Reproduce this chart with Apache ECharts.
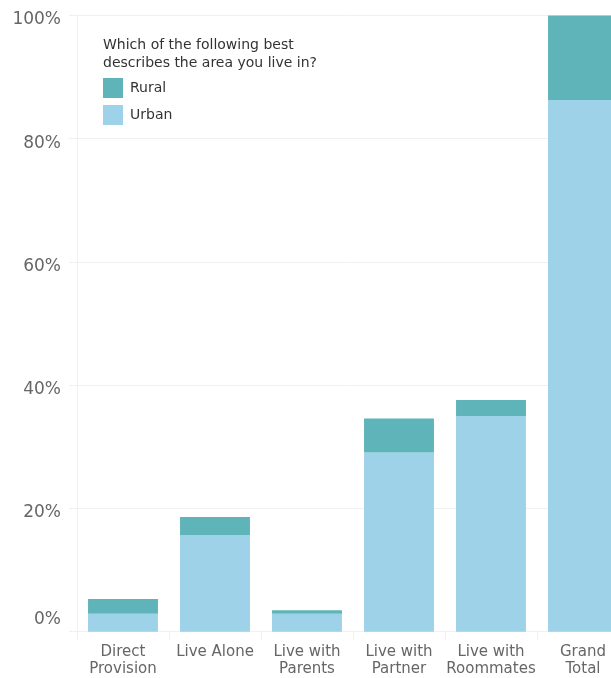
<!DOCTYPE html>
<html>
<head>
<meta charset="utf-8">
<script src="https://cdn.jsdelivr.net/npm/echarts@6/dist/echarts.min.js"></script>
<style>
  html, body { margin: 0; padding: 0; background: #fff; }
  #chart { width: 611px; height: 678px; }
</style>
</head>
<body>
<div id="chart"></div>
<script>
// living situation categories
var categories = ['Direct\nProvision', 'Live Alone', 'Live with\nParents', 'Live with\nPartner', 'Live with\nRoommates', 'Grand\nTotal'];
// share of respondents, percent
var urbanValues = [2.9, 15.7, 2.9, 29.1, 35.0, 86.3];
var ruralValues = [2.4, 2.9, 0.6, 5.5, 2.6, 13.7];
var yTicks = [0, 20, 40, 60, 80, 100];

var font = '"DejaVu Sans", "Noto Sans", sans-serif';
var gridColor = '#f0f0f0';

var myChart = echarts.init(document.getElementById('chart'));

var option = {
    backgroundColor: '#fff',
    animation: false,
    textStyle: { fontFamily: font },
    title: {
        text: 'Which of the following best\ndescribes the area you live in?',
        left: 103,
        top: 36,
        padding: 0,
        textStyle: {
            fontFamily: font,
            fontSize: 14,
            fontWeight: 'normal',
            color: '#333',
            lineHeight: 18
        }
    },
    legend: {
        orient: 'vertical',
        left: 103,
        top: 78,
        padding: 0,
        itemWidth: 20,
        itemHeight: 20,
        itemGap: 7,
        icon: 'rect',
        data: ['Rural', 'Urban'],
        textStyle: {
            fontFamily: font,
            fontSize: 14,
            color: '#333',
            padding: [0, 0, 0, 2]
        }
    },
    grid: {
        left: 77,
        width: 552,
        top: 15.5,
        height: 616.2,
        containLabel: false,
        outerBoundsMode: 'none'
    },
    xAxis: {
        type: 'category',
        data: categories,
        axisLine: { show: true, lineStyle: { color: gridColor } },
        axisTick: { show: true, length: 8, alignWithLabel: false, lineStyle: { color: gridColor } },
        axisLabel: {
            margin: 12,
            interval: 0,
            fontFamily: font,
            fontSize: 15,
            lineHeight: 17,
            color: '#666'
        }
    },
    yAxis: {
        type: 'value',
        min: yTicks[0],
        max: yTicks[yTicks.length - 1],
        interval: 20,
        axisLine: { show: true, lineStyle: { color: gridColor } },
        axisTick: { show: true, length: 8, lineStyle: { color: gridColor } },
        splitLine: { show: true, lineStyle: { color: gridColor, width: 1 } },
        axisLabel: {
            margin: 16,
            fontFamily: font,
            fontSize: 17,
            color: '#666',
            formatter: function (v) {
                if (v === 0) return '{zero|0%}';
                return '{n|' + v + '%}';
            },
            rich: {
                zero: { fontFamily: font, fontSize: 17, color: '#666', padding: [0, 0, 24, 0] },
                n: { fontFamily: font, fontSize: 17, color: '#666', padding: [9, 0, 0, 0] }
            }
        }
    },
    series: [
        {
            name: 'Urban',
            type: 'bar',
            stack: 'area',
            barCategoryGap: '24%',
            itemStyle: { color: '#9dd2e9' },
            data: urbanValues
        },
        {
            name: 'Rural',
            type: 'bar',
            stack: 'area',
            barCategoryGap: '24%',
            itemStyle: { color: '#5fb4b9' },
            data: ruralValues
        }
    ]
};

myChart.setOption(option);
</script>
</body>
</html>
